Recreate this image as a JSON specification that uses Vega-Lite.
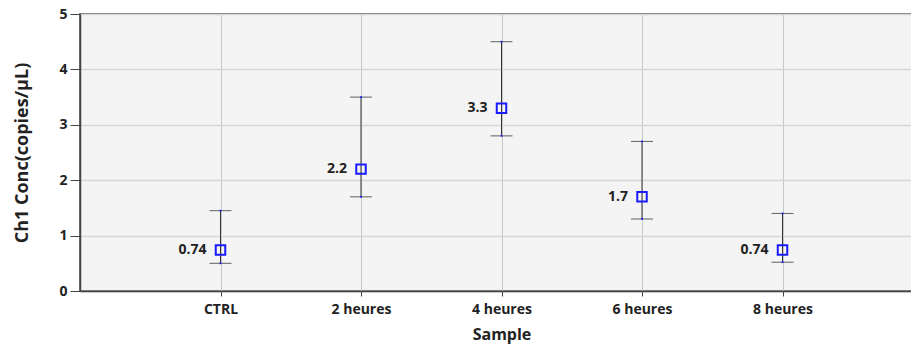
{
  "$schema": "https://vega.github.io/schema/vega-lite/v6.json",
  "autosize": "none",
  "padding": {"left": 80, "top": 14, "right": 0, "bottom": 54},
  "width": 843,
  "height": 277,
  "background": "white",
  "config": {
    "font": "Open Sans",
    "view": {"fill": "#f4f4f4", "stroke": "#444444", "strokeWidth": 1.5},
    "axis": {
      "labelFont": "Open Sans",
      "titleFont": "Open Sans",
      "labelFontWeight": "bold",
      "titleFontWeight": "bold",
      "labelColor": "#222222",
      "titleColor": "#222222",
      "labelFontSize": 14,
      "titleFontSize": 16,
      "domainColor": "#444444",
      "domainWidth": 1.5,
      "tickColor": "#444444"
    }
  },
  "data": {
    "values": [
      {"sample": "CTRL", "conc": 0.74, "low": 0.5, "high": 1.45, "label": "0.74"},
      {"sample": "2 heures", "conc": 2.2, "low": 1.7, "high": 3.5, "label": "2.2"},
      {"sample": "4 heures", "conc": 3.3, "low": 2.8, "high": 4.5, "label": "3.3"},
      {"sample": "6 heures", "conc": 1.7, "low": 1.3, "high": 2.7, "label": "1.7"},
      {"sample": "8 heures", "conc": 0.74, "low": 0.52, "high": 1.4, "label": "0.74"}
    ]
  },
  "encoding": {
    "x": {
      "field": "sample",
      "type": "nominal",
      "sort": null,
      "scale": {"type": "point", "padding": 1},
      "axis": {
        "title": "Sample",
        "labelAngle": 0,
        "labelPadding": 6,
        "tickSize": 5,
        "titlePadding": 10,
        "grid": true,
        "gridColor": "#c8c8c8",
        "gridWidth": 1
      }
    }
  },
  "layer": [
    {
      "mark": {"type": "rule", "color": "#333333", "strokeWidth": 1},
      "encoding": {
        "y": {
          "field": "low",
          "type": "quantitative",
          "scale": {"domain": [0, 5], "nice": false},
          "axis": {
            "title": "Ch1 Conc(copies/µL)",
            "titleFontSize": 18,
            "values": [0, 1, 2, 3, 4, 5],
            "format": "d",
            "tickSize": 10,
            "labelPadding": 3,
            "titlePadding": 27,
            "grid": true,
            "gridColor": "#d6d6d6",
            "gridWidth": 1.5
          }
        },
        "y2": {"field": "high"}
      }
    },
    {
      "mark": {"type": "tick", "color": "#222222", "size": 22, "thickness": 1},
      "encoding": {"y": {"field": "high", "type": "quantitative"}}
    },
    {
      "mark": {"type": "tick", "color": "#222222", "size": 22, "thickness": 1},
      "encoding": {"y": {"field": "low", "type": "quantitative"}}
    },
    {
      "mark": {"type": "point", "shape": "square", "filled": true, "size": 3, "color": "#1a1aff", "opacity": 1},
      "encoding": {"y": {"field": "high", "type": "quantitative"}}
    },
    {
      "mark": {"type": "point", "shape": "square", "filled": true, "size": 3, "color": "#1a1aff", "opacity": 1},
      "encoding": {"y": {"field": "low", "type": "quantitative"}}
    },
    {
      "mark": {"type": "point", "shape": "square", "filled": false, "size": 90, "color": "#1a1aff", "strokeWidth": 2, "opacity": 1},
      "encoding": {"y": {"field": "conc", "type": "quantitative"}}
    },
    {
      "mark": {"type": "text", "align": "right", "baseline": "middle", "dx": -14, "fontSize": 14, "fontWeight": "bold", "color": "#222222"},
      "encoding": {
        "y": {"field": "conc", "type": "quantitative"},
        "text": {"field": "label", "type": "nominal"}
      }
    }
  ]
}
